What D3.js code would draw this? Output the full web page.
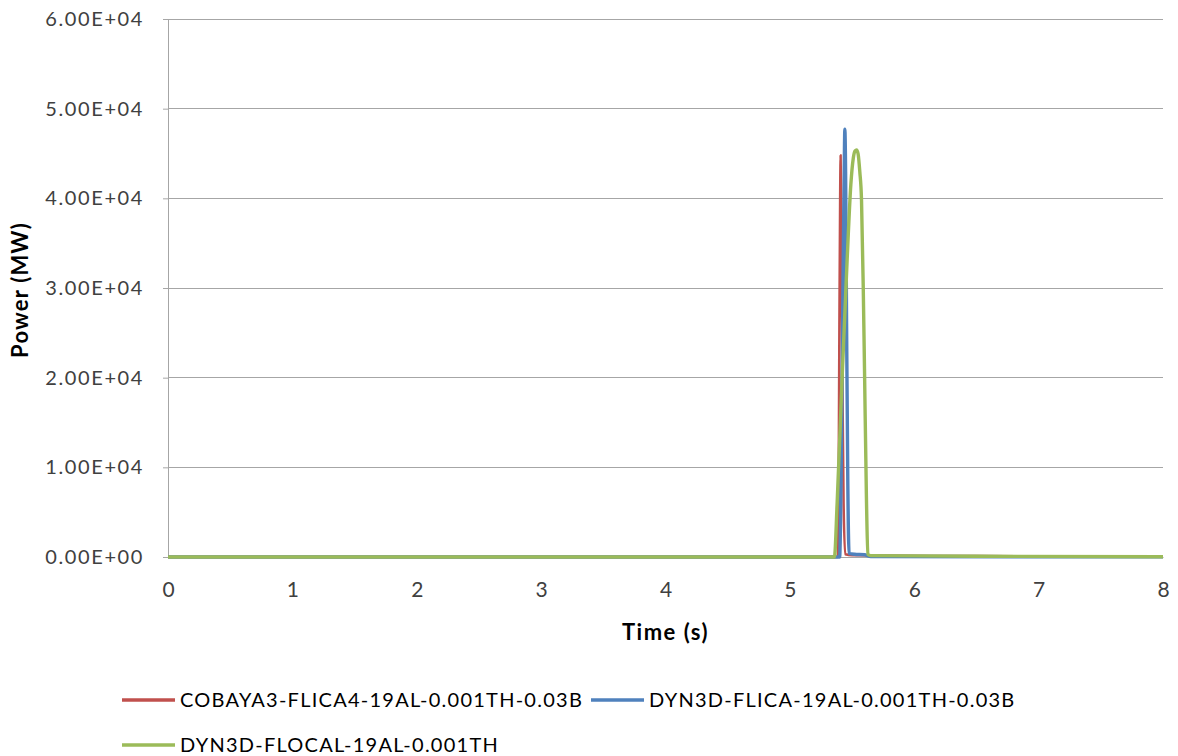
<!DOCTYPE html>
<html><head><meta charset="utf-8">
<script src="https://cdn.jsdelivr.net/npm/d3@7"></script>
<style>body{margin:0;background:#fff}svg{display:block}</style>
</head><body>
<svg id="c" width="1178" height="756"></svg>
<script>
const xTicks = [0,1,2,3,4,5,6,7,8];
const yTicks = [0,10000,20000,30000,40000,50000,60000];
const yTickLabels = ["0.00E+00","1.00E+04","2.00E+04","3.00E+04","4.00E+04","5.00E+04","6.00E+04"];
const seriesNames = ["COBAYA3-FLICA4-19AL-0.001TH-0.03B","DYN3D-FLICA-19AL-0.001TH-0.03B","DYN3D-FLOCAL-19AL-0.001TH"];
const seriesColors = ["#c0504d","#4f81bd","#9bbb59"];
const redTime  = [0, 5.0, 5.385, 5.392, 5.398, 5.404, 5.408, 5.414, 5.422, 5.432, 5.445, 5.5, 6.5, 8];
const redPower = [0, 0,   0,     8000,  26000, 40000, 44800, 36000, 20000, 6000,  300,   200, 100, 50];
const blueTime  = [0, 5.0, 5.40, 5.412, 5.425, 5.436, 5.442, 5.448, 5.456, 5.466, 5.476, 5.52, 5.6, 5.65, 8];
const bluePower = [0, 0,   0,    9000,  28000, 42000, 47700, 43000, 26000, 8000,  400,   300,  250, 50, 20];
const greenTime  = [0, 5.0, 5.358, 5.38, 5.42, 5.46, 5.49, 5.51, 5.525, 5.536, 5.548, 5.562, 5.576, 5.59, 5.60, 5.615, 5.627, 5.65, 6.0, 6.5, 8];
const greenPower = [0, 0,   0,     6000,  20000, 33000, 41500, 44500, 45300, 45400, 45000, 43000, 39800, 30000, 21000, 7000, 300, 150, 120, 80, 30];

const W=1178, H=756;
const m={l:168, t:19, r:15, b:199};
const svg=d3.select("#c");
const x=d3.scaleLinear().domain([0,8]).range([m.l, W-m.r]);
const y=d3.scaleLinear().domain([0,60000]).range([H-m.b, m.t]);
const font="Lato, 'Open Sans', sans-serif";

// gridlines
svg.append("g").selectAll("line").data(yTicks.slice(1)).join("line")
  .attr("x1",x(0)).attr("x2",x(8)).attr("y1",d=>y(d)).attr("y2",d=>y(d))
  .attr("stroke","#a6a6a6").attr("stroke-width",1).attr("shape-rendering","crispEdges");

// y axis
const ya=d3.axisLeft(y).tickValues(yTicks).tickSize(5).tickPadding(19).tickFormat((d,i)=>yTickLabels[i]);
const gy=svg.append("g").attr("transform",`translate(${m.l},0)`).call(ya);
gy.select(".domain").attr("stroke","#a6a6a6");
gy.selectAll(".tick line").attr("stroke","#a6a6a6");
gy.selectAll("text").attr("font-family",font).attr("font-size",20).attr("letter-spacing",1.6).attr("fill","#404040");

// x axis
const xa=d3.axisBottom(x).tickValues(xTicks).tickSize(0).tickPadding(25).tickFormat(d3.format("d"));
const gx=svg.append("g").attr("transform",`translate(0,${y(0)})`).call(xa);
gx.select(".domain").attr("stroke","#a6a6a6");
gx.selectAll("text").attr("font-family",font).attr("font-size",21).attr("fill","#404040");

// titles
svg.append("text").attr("x",(x(0)+x(8))/2).attr("y",640).attr("text-anchor","middle")
  .attr("font-family",font).attr("font-weight","bold").attr("font-size",22).attr("letter-spacing",1.5).attr("fill","#000").text("Time (s)");
svg.append("text").attr("transform",`translate(28,290) rotate(-90)`).attr("text-anchor","middle")
  .attr("font-family",font).attr("font-weight","bold").attr("font-size",22).attr("letter-spacing",1.2).attr("fill","#000").text("Power (MW)");

// lines
const series=[[redTime,redPower],[blueTime,bluePower],[greenTime,greenPower]];
const line=d3.line().x(d=>x(d[0])).y(d=>y(d[1])).curve(d3.curveMonotoneX);
series.forEach((s,i)=>{
  const pts=s[0].map((t,j)=>[t,s[1][j]]);
  svg.append("path").datum(pts).attr("d",line).attr("fill","none")
    .attr("stroke",seriesColors[i]).attr("stroke-width",i===0?2.5:3.4).attr("stroke-linejoin","round");
});

// legend
const leg=[{x:122,y:700},{x:591,y:700},{x:122,y:745}];
seriesNames.forEach((n,i)=>{
  const g=svg.append("g").attr("transform",`translate(${leg[i].x},${leg[i].y})`);
  g.append("line").attr("x1",0).attr("x2",53).attr("y1",0).attr("y2",0).attr("stroke",seriesColors[i]).attr("stroke-width",3.5);
  g.append("text").attr("x",58).attr("y",7).attr("font-family",font).attr("font-size",20).attr("letter-spacing",1.25).attr("fill","#000").text(n);
});
</script>
</body></html>
